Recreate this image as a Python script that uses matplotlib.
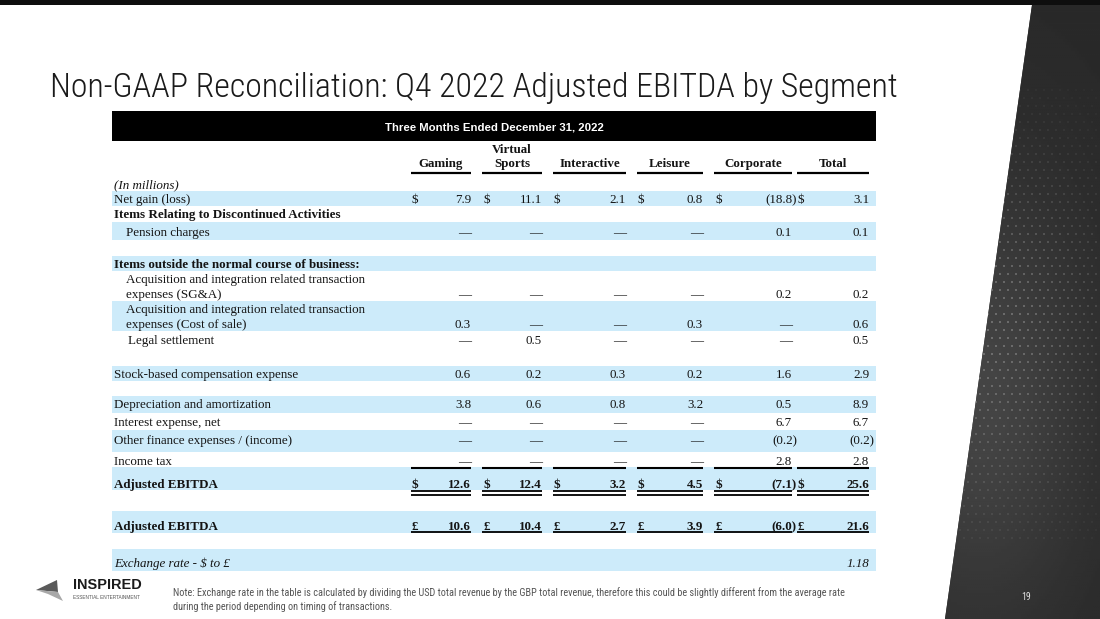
import numpy as np
import matplotlib
matplotlib.use("Agg")
import matplotlib.pyplot as plt
from matplotlib import font_manager
from matplotlib.patches import Polygon, Rectangle

# Data
title = "Non-GAAP Reconciliation: Q4 2022 Adjusted EBITDA by Segment"
period = "Three Months Ended December 31, 2022"
segments = ["Gaming", "Virtual\nSports", "Interactive", "Leisure", "Corporate", "Total"]

net_gain = [7.9, 11.1, 2.1, 0.8, -18.8, 3.1]
pension = [None, None, None, None, 0.1, 0.1]
acq_sga = [None, None, None, None, 0.2, 0.2]
acq_cos = [0.3, None, None, 0.3, None, 0.6]
legal = [None, 0.5, None, None, None, 0.5]
sbc = [0.6, 0.2, 0.3, 0.2, 1.6, 2.9]
dep_amort = [3.8, 0.6, 0.8, 3.2, 0.5, 8.9]
interest = [None, None, None, None, 6.7, 6.7]
other_fin = [None, None, None, None, -0.2, -0.2]
income_tax = [None, None, None, None, 2.8, 2.8]
ebitda_usd = [12.6, 12.4, 3.2, 4.5, -7.1, 25.6]
ebitda_gbp = [10.6, 10.4, 2.7, 3.9, -6.0, 21.6]
fx_rate = 1.18

note_lines = ["Note: Exchange rate in the table is calculated by dividing the USD total revenue by the GBP total revenue, therefore this could be slightly different from the average rate",
              "during the period depending on timing of transactions."]
page_no = "19"

# Fonts
names = {f.name for f in font_manager.fontManager.ttflist}
cond = next((n for n in ["Roboto Condensed", "Liberation Sans Narrow", "DejaVu Sans Condensed"] if n in names), "DejaVu Sans")
serif = "Liberation Serif" if "Liberation Serif" in names else "DejaVu Serif"
sans = "Liberation Sans" if "Liberation Sans" in names else "DejaVu Sans"

band_color = "#cdebfa"
ink = "#141414"

fig = plt.figure(figsize=(11, 6.19), dpi=100)
ax = fig.add_axes([0, 0, 1, 1])
ax.set_xlim(0, 1100)
ax.set_ylim(619, 0)
ax.axis("off")
renderer = fig.canvas.get_renderer()


def fit_text(x, y, s, width, **kw):
    t = ax.text(x, y, s, fontsize=10, **kw)
    w = t.get_window_extent(renderer).width
    t.set_fontsize(10 * width / w)
    return t


def fmt(v):
    if v is None:
        return "\u2014"
    if v < 0:
        return f"({abs(v):.1f})"
    return f"{v:.1f}"


# right dark panel
panel = Polygon([(1032, 5), (1100, 5), (1100, 619), (945, 619)], closed=True,
                facecolor="#2c2c2c", edgecolor="none", zorder=1)
ax.add_patch(panel)
gx, gy = np.meshgrid(np.linspace(940, 1100, 80), np.linspace(0, 619, 200))
shade = 0.16 + 0.11 * np.exp(-(((gx - 980) / 110) ** 2 + ((gy - 400) / 220) ** 2))
im = ax.imshow(shade, extent=(940, 1100, 619, 0), cmap="gray", vmin=0, vmax=1,
               aspect="auto", zorder=2, interpolation="bilinear")
im.set_clip_path(panel)
dx, dy = np.meshgrid(np.arange(940, 1100, 8.0), np.arange(90, 540, 8.0))
dx = dx + (np.arange(dx.shape[0])[:, None] % 2) * 4
fade = np.exp(-(((dx - 990) / 120) ** 2 + ((dy - 330) / 170) ** 2))
dots = ax.scatter(dx.ravel(), dy.ravel(), s=1.8, c="#8a8a8a", linewidths=0, zorder=3)
dots.set_alpha(np.clip(fade.ravel() * 0.9, 0, 1))
dots.set_clip_path(panel)
ax.add_patch(Rectangle((0, 0), 1100, 5, facecolor="#0e0e0e", edgecolor="none", zorder=4))
ax.text(1026, 597, page_no, fontsize=7, color="#e0e0e0", ha="center", va="center",
        family=cond, zorder=5)

# title
fit_text(50, 97, title, 847, family=cond, color="#1a1a1a", va="baseline", weight="light")

# header bar
ax.add_patch(Rectangle((112, 111), 764, 30, facecolor="black", edgecolor="none"))
ax.text(494, 127, period, fontsize=8.2, family=sans, weight="bold", color="white",
        ha="center", va="center")

col_left = [411, 482, 553, 637, 714, 797]
col_right = [471, 542, 626, 703, 792, 869]
fs = 9.4

for seg, l, r in zip(segments, col_left, col_right):
    parts = seg.split("\n")
    for k, p in enumerate(reversed(parts)):
        ax.text((l + r) / 2, 167 - 14 * k, p, fontsize=fs, family=serif, weight="bold",
                color=ink, ha="center", va="baseline")
    ax.plot([l, r], [173, 173], color="black", lw=1.6, solid_capstyle="butt")

rows = [
    dict(label=["(In millions)"], y=184, style="italic"),
    dict(label=["Net gain (loss)"], y=199, band=(191, 206), vals=net_gain, cur="$"),
    dict(label=["Items Relating to Discontinued Activities"], y=214, weight="bold"),
    dict(label=["Pension charges"], y=232, band=(222, 240), vals=pension, indent=12),
    dict(label=["Items outside the normal course of business:"], y=264, band=(256, 271), weight="bold"),
    dict(label=["Acquisition and integration related transaction", "expenses (SG&A)"], y=294,
         vals=acq_sga, indent=12),
    dict(label=["Acquisition and integration related transaction", "expenses (Cost of sale)"], y=324,
         band=(301, 331), vals=acq_cos, indent=12),
    dict(label=["Legal settlement"], y=340, vals=legal, indent=14),
    dict(label=["Stock-based compensation expense"], y=374, band=(366, 381), vals=sbc),
    dict(label=["Depreciation and amortization"], y=404, band=(396, 413), vals=dep_amort),
    dict(label=["Interest expense, net"], y=422, vals=interest),
    dict(label=["Other finance expenses / (income)"], y=440, band=(430, 452), vals=other_fin),
    dict(label=["Income tax"], y=461, vals=income_tax),
    dict(label=["Adjusted EBITDA"], y=484, band=(467, 490), vals=ebitda_usd, cur="$", weight="bold"),
    dict(label=["Adjusted EBITDA"], y=526, band=(511, 533), vals=ebitda_gbp, cur="\u00a3", weight="bold"),
    dict(label=["Exchange rate - $ to \u00a3"], y=563, band=(549, 571), style="italic"),
]

for row in rows:
    if "band" in row:
        y0, y1 = row["band"]
        ax.add_patch(Rectangle((112, y0), 764, y1 - y0, facecolor=band_color,
                               edgecolor="none", zorder=0.5))
    weight = row.get("weight", "normal")
    style = row.get("style", "normal")
    n = len(row["label"])
    for k, lab in enumerate(row["label"]):
        ax.text(114 + row.get("indent", 0), row["y"] + 4 - 15 * (n - 1 - k), lab, fontsize=fs,
                family=serif, weight=weight, style=style, color=ink, va="baseline")
    if "vals" in row:
        for v, l, r in zip(row["vals"], col_left, col_right):
            s = fmt(v)
            xr = r + 5 if s.endswith(")") else r
            ax.text(xr, row["y"] + 4, s, fontsize=fs, family=serif, weight=weight,
                    color=ink, ha="right", va="baseline")
            if "cur" in row:
                ax.text(l + 1, row["y"] + 4, row["cur"], fontsize=fs, family=serif,
                        weight=weight, color=ink, ha="left", va="baseline")

ax.text(col_right[-1], 567, f"{fx_rate:.2f}", fontsize=fs, family=serif, style="italic",
        color=ink, ha="right", va="baseline")

# total rules
for l, r in zip(col_left, col_right):
    ax.plot([l, r], [467.5, 467.5], color="black", lw=1.5, solid_capstyle="butt")
    ax.plot([l, r], [491, 491], color="black", lw=1.3, solid_capstyle="butt")
    ax.plot([l, r], [494.5, 494.5], color="black", lw=1.3, solid_capstyle="butt")
    ax.plot([l, r], [532, 532], color="black", lw=1.3, solid_capstyle="butt")

# footer logo + note
ax.add_patch(Polygon([(36, 590), (57, 580), (58, 592)], closed=True, facecolor="#5a5a5a",
                     edgecolor="none"))
ax.add_patch(Polygon([(36, 590), (58, 592), (63, 601), (48, 594)], closed=True,
                     facecolor="#a8a8a8", edgecolor="none"))
fit_text(73, 589, "INSPIRED", 68, family=sans, weight="bold", color="#1a1a1a", va="baseline")
fit_text(73, 599, "ESSENTIAL ENTERTAINMENT", 68, family=sans, color="#555555", va="baseline")
t = fit_text(173, 596, note_lines[0], 667, family=cond, color="#555555", va="baseline")
ax.text(173, 610, note_lines[1], fontsize=t.get_fontsize(), family=cond, color="#555555",
        va="baseline")

fig.savefig("out.png", dpi=100)
